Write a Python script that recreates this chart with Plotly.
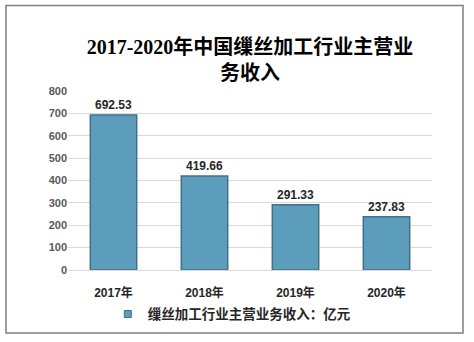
import plotly.graph_objects as go

# Main business revenue of China's silk reeling industry, 100 million yuan
years = ["2017年", "2018年", "2019年", "2020年"]
revenue = [692.53, 419.66, 291.33, 237.83]
series_name = "缫丝加工行业主营业务收入：亿元"
y_ticks = [0, 100, 200, 300, 400, 500, 600, 700, 800]

W, H = 474, 342
L, R, T, B = 68, 42, 91, 69
BAR_FILL = "#5b9dbb"

fig = go.Figure(
    go.Bar(
        x=years,
        y=revenue,
        name=series_name,
        showlegend=False,
        marker=dict(color=BAR_FILL, line=dict(color="#41708a", width=1.5)),
        text=[f"{v:.2f}" for v in revenue],
        textposition="outside",
        textfont=dict(family="Liberation Sans, Arial, sans-serif", size=12,
                      color="#262626", weight="bold"),
        cliponaxis=False,
    )
)

# legend entry with a small square swatch
fig.add_trace(
    go.Scatter(
        x=[None], y=[None], mode="markers", name=series_name,
        marker=dict(symbol="square", size=7, color=BAR_FILL,
                    line=dict(color="#41708a", width=1)),
    )
)

# outer frame around the whole chart
pw, ph = W - L - R, H - T - B
fig.add_shape(
    type="rect", xref="paper", yref="paper",
    x0=(6 - L) / pw, x1=(463 - L) / pw,
    y0=(H - B - 337) / ph, y1=(H - B - 4) / ph,
    line=dict(color="#7f7f7f", width=1.5),
)

fig.update_layout(
    width=W, height=H,
    margin=dict(l=L, r=R, t=T, b=B),
    paper_bgcolor="white", plot_bgcolor="white",
    bargap=0.49,
    title=dict(
        text="<b>2017-2020年中国缫丝加工行业主营业<br>务收入</b>",
        x=0.5, xref="paper", xanchor="center",
        y=1 - 54 / H, yanchor="middle",
        font=dict(family="Liberation Serif, Noto Sans CJK SC, serif", size=20, color="#000000"),
    ),
    xaxis=dict(
        showgrid=False, showline=False,
        ticks="outside", ticklen=12, tickcolor="rgba(0,0,0,0)",
        tickfont=dict(family="Liberation Sans, Noto Sans CJK SC, sans-serif", size=12,
                      color="#262626", weight="bold"),
    ),
    yaxis=dict(
        range=[0, 800], tickvals=y_ticks,
        showgrid=True, gridcolor="#d9d9d9", gridwidth=1,
        zeroline=True, zerolinecolor="#d9d9d9", zerolinewidth=1,
        showline=False, ticks="", ticklen=0,
        tickfont=dict(family="Liberation Sans, Arial, sans-serif", size=11,
                      color="#595959", weight="bold"),
    ),
    showlegend=True,
    legend=dict(
        orientation="h", x=0.45, xanchor="center",
        y=(H - B - 318) / ph, yanchor="middle",
        font=dict(family="Noto Sans CJK SC, sans-serif", size=13.5, color="#262626", weight="bold"),
        itemwidth=30,
    ),
)

fig.write_html("out.html")
